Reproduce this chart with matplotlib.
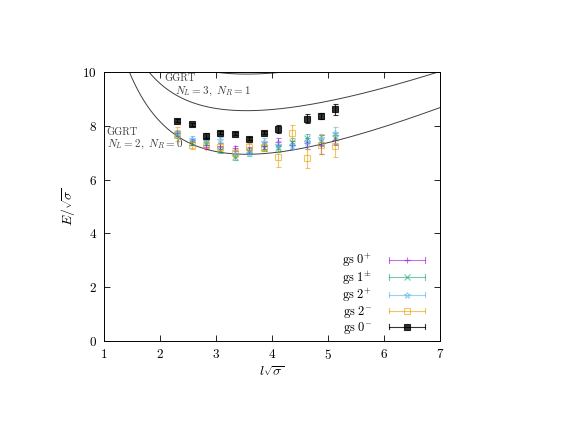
import matplotlib
matplotlib.use('Agg')
import matplotlib.pyplot as plt
from matplotlib.lines import Line2D
from matplotlib.legend_handler import HandlerBase
import numpy as np

plt.rcParams['font.family'] = 'cmr10'
plt.rcParams['mathtext.fontset'] = 'cm'
plt.rcParams['axes.formatter.use_mathtext'] = True

# lattice sizes l*sqrt(sigma)
x_all = [2.31, 2.57, 2.82, 3.08, 3.34, 3.59, 3.85, 4.10, 4.36, 4.62, 4.87, 5.13]

# gs 0+
e_0p = [7.72, 7.40, 7.20, 7.25, 7.16, 7.10, 7.26, 7.41, 7.29, 7.35, 7.29, 7.47]
d_0p = [0.10, 0.10, 0.08, 0.10, 0.10, 0.10, 0.12, 0.15, 0.15, 0.20, 0.35, 0.20]
# gs 1+-
e_1 = [7.65, 7.37, 7.37, 7.10, 6.83, 7.08, 7.16, 7.16, 7.41, 7.53, 7.44, 7.53]
d_1 = [0.10, 0.10, 0.10, 0.10, 0.12, 0.10, 0.10, 0.12, 0.12, 0.15, 0.20, 0.20]
# gs 2+
e_2p = [7.75, 7.51, 7.47, 7.47, 6.96, 6.98, 7.41, 7.29, 7.25, 7.41, 7.53, 7.74]
d_2p = [0.10, 0.10, 0.10, 0.12, 0.10, 0.10, 0.12, 0.15, 0.12, 0.15, 0.15, 0.20]
# gs 2-
e_2m = [7.70, 7.29, 7.29, 7.22, 6.98, 7.22, 7.22, 6.85, 7.74, 6.79, 7.29, 7.25]
d_2m = [0.25, 0.15, 0.12, 0.15, 0.15, 0.15, 0.15, 0.40, 0.30, 0.35, 0.35, 0.40]
# gs 0-
x_0m = [2.31, 2.57, 2.82, 3.08, 3.34, 3.59, 3.85, 4.10, 4.62, 4.87, 5.13]
e_0m = [8.19, 8.05, 7.63, 7.74, 7.70, 7.52, 7.74, 7.87, 8.27, 8.36, 8.61]
d_0m = [0.06, 0.05, 0.10, 0.05, 0.06, 0.05, 0.05, 0.15, 0.17, 0.12, 0.20]

# GGRT curves (N_L, N_R)
ggrt_states = [(2, 0), (3, 1), (4, 2)]


def ggrt(x, nl, nr):
    q = nl - nr
    return np.sqrt(x**2 + 4*np.pi*(nl + nr - 1/6) + (2*np.pi*q/x)**2)


class HandlerHErr(HandlerBase):
    """gnuplot-like key sample: horizontal bar with caps and a marker."""
    def create_artists(self, legend, orig, xdescent, ydescent, width, height,
                       fontsize, trans):
        y = height / 2 - ydescent
        x0, x1 = -xdescent, width - xdescent
        c = 2.0
        kw = dict(color=orig.get_color(), lw=0.8, alpha=orig.get_alpha(),
                  transform=trans)
        arts = [Line2D([x0, x1], [y, y], **kw),
                Line2D([x0, x0], [y - c, y + c], **kw),
                Line2D([x1, x1], [y - c, y + c], **kw),
                Line2D([(x0 + x1) / 2], [y], marker=orig.get_marker(),
                       ms=orig.get_markersize(), mfc=orig.get_markerfacecolor(),
                       mec=orig.get_color(), mew=0.8, ls='none',
                       alpha=orig.get_alpha(), transform=trans)]
        return arts


fig = plt.figure(figsize=(5.64, 4.36), dpi=100)
ax = fig.add_axes([0.1844, 0.2179, 0.5957, 0.617])

xx = np.linspace(1.0, 7.0, 800)
for nl, nr in ggrt_states:
    ax.plot(xx, ggrt(xx, nl, nr), color='#404040', lw=0.7, zorder=1)

series = [
    (x_all, e_0p, d_0p, '#9400d3', '+', '$\\mathrm{gs}\\ 0^{+}$', 'none', 0.55),
    (x_all, e_1, d_1, '#009e73', 'x', '$\\mathrm{gs}\\ 1^{\\pm}$', 'none', 0.55),
    (x_all, e_2p, d_2p, '#56b4e9', '*', '$\\mathrm{gs}\\ 2^{+}$', 'none', 0.6),
    (x_all, e_2m, d_2m, '#e69f00', 's', '$\\mathrm{gs}\\ 2^{-}$', 'none', 0.6),
]
handles = []
for xs, ys, ds, col, mk, lab, fc, al in series:
    ax.errorbar(xs, ys, yerr=ds, fmt=mk, color=col, mfc=fc, mec=col,
                ms=4.5, mew=0.8, elinewidth=0.8, capsize=1.8, capthick=0.8,
                alpha=al, zorder=2)
    handles.append(Line2D([], [], color=col, marker=mk, mfc=fc, ms=4.5,
                          alpha=al, label=lab))
ax.errorbar(x_0m, e_0m, yerr=d_0m, fmt='s', color='black', ms=4, mew=0.8,
            elinewidth=0.8, capsize=1.8, capthick=0.8, alpha=0.8, zorder=3)
handles.append(Line2D([], [], color='black', marker='s', mfc='black', ms=4,
                      alpha=0.8, label='$\\mathrm{gs}\\ 0^{-}$'))

tc = '#404040'
ax.text(2.07, 9.76, 'GGRT', fontsize=7.5, color=tc, va='center')
ax.text(2.27, 9.28, '$N_L=3,\\ N_R=1$', fontsize=8, color=tc, va='center')
ax.text(1.05, 7.75, 'GGRT', fontsize=7.5, color=tc, va='center')
ax.text(1.05, 7.30, '$N_L=2,\\ N_R=0$', fontsize=8, color=tc, va='center')

ax.set_xlim(1, 7)
ax.set_ylim(0, 10)
ax.set_xticks(range(1, 8))
ax.set_yticks(range(0, 11, 2))
ax.tick_params(direction='in', length=4, width=0.6, top=True, right=True,
               labelsize=9.5, pad=5)
for s in ax.spines.values():
    s.set_linewidth(0.7)
ax.set_xlabel('$l\\sqrt{\\sigma}$', fontsize=10, labelpad=2)
ax.set_ylabel('$E/\\sqrt{\\sigma}$', fontsize=10, labelpad=4)

ax.legend(handles=handles, loc='lower right', bbox_to_anchor=(0.97, 0.0),
          fontsize=9, frameon=False,
          markerfirst=False, handlelength=2.9, handletextpad=1.3,
          labelspacing=0.0, borderaxespad=0.2, borderpad=0.2,
          handler_map={Line2D: HandlerHErr()})

fig.savefig('out.png', dpi=100)
